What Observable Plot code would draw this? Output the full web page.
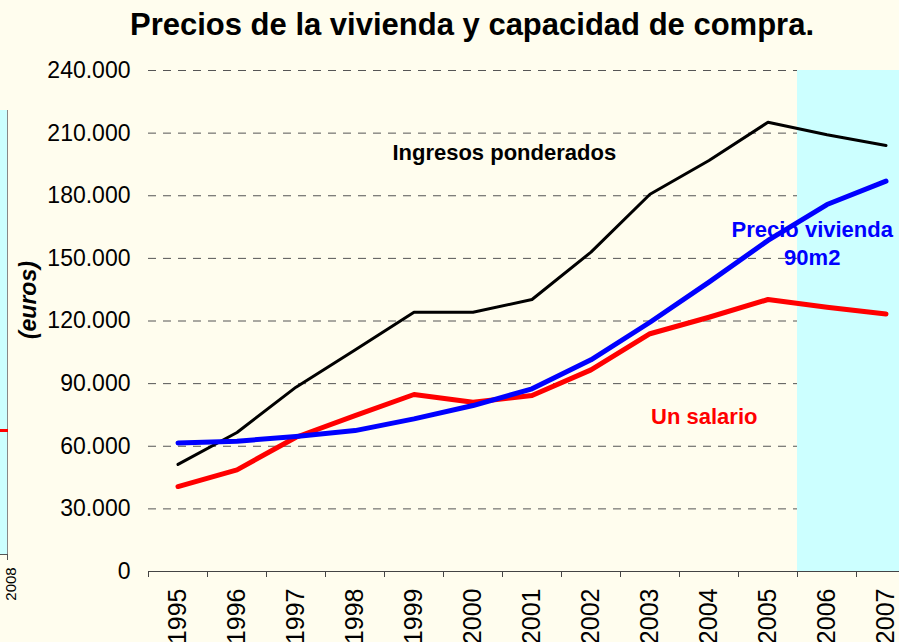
<!DOCTYPE html>
<html>
<head>
<meta charset="utf-8">
<script src="https://cdn.jsdelivr.net/npm/d3@7"></script>
<script src="https://cdn.jsdelivr.net/npm/@observablehq/plot@0.6"></script>
<style>
  html, body { margin: 0; padding: 0; background: #fffdee; overflow: hidden; width: 899px; height: 642px; }
  #wrap { position: relative; width: 899px; height: 642px; overflow: hidden; font-family: "Liberation Sans", Arial, sans-serif; }
  #title { position: absolute; left: 0; top: 0; width: 944px; height: 50px; text-align: center; font-weight: bold; font-size: 31px; line-height: 50px; color: #000; }
  #chart { position: absolute; left: 0; top: 50px; width: 916px; }
  #chart svg { max-width: none !important; }
  /* fragment of the neighbouring chart at the left edge of the screenshot */
  #frag-fill { position: absolute; left: 0; top: 110px; width: 7px; height: 445px; background: #ccffff; border-right: 1px solid #888; }
  #frag-axis { position: absolute; left: 0; top: 554px; width: 8px; height: 1px; background: #555; }
  #frag-tick { position: absolute; left: 7px; top: 554px; width: 1px; height: 6px; background: #555; }
  #frag-line { position: absolute; left: 0; top: 429px; width: 8px; height: 3px; background: #ff0000; }
  #frag-label { position: absolute; left: 10px; top: 584px; font-size: 15px; color: #000; transform: translate(-50%, -50%) rotate(-90deg); white-space: nowrap; }
</style>
</head>
<body>
<div id="wrap">
  <div id="frag-fill"></div>
  <div id="frag-line"></div>
  <div id="frag-axis"></div>
  <div id="frag-tick"></div>
  <div id="frag-label">2008</div>
  <div id="title">Precios de la vivienda y capacidad de compra.</div>
  <div id="chart"></div>
</div>
<script>
// ---- data (euros) ----
const years    = [1995, 1996, 1997, 1998, 1999, 2000, 2001, 2002, 2003, 2004, 2005, 2006, 2007];
const ingresos = [51300, 66600, 88300, 106100, 124200, 124200, 130300, 153000, 180700, 196900, 215200, 209200, 204100];
const precio   = [61600, 62400, 64700, 67500, 73100, 79500, 87500, 101400, 119400, 138600, 158600, 175800, 187000];
const salario  = [40700, 48700, 64300, 74700, 84800, 81100, 84300, 96600, 113900, 121800, 130300, 126600, 123400];
const yTicks   = [0, 30000, 60000, 90000, 120000, 150000, 180000, 210000, 240000];
const shadedYears = [2006, 2007];
const unitLabel = [{ text: "(euros)", value: 130000 }];
const seriesLabels = [
  { text: "Ingresos ponderados", year: 2000.53, value: 196900, color: "#000000" },
  { text: "Precio vivienda\n90m2", year: 2005.75, value: 146600, color: "#0000ff" },
  { text: "Un salario", year: 2003.92, value: 70700, color: "#ff0000" }
];

const rows = years.map((year, i) => ({ year, ingresos: ingresos[i], precio: precio[i], salario: salario[i] }));
const halfYears = [years[0] - 0.5, ...years.map(y => y + 0.5)];
const shade = [{ x1: d3.min(shadedYears) - 0.5, x2: d3.max(shadedYears) + 0.5 }];
const fmt = d => d === 0 ? "0" : d3.format(",")(d).replace(/,/g, ".");

const chart = Plot.plot({
  width: 916,
  height: 592,
  marginLeft: 148,
  marginRight: 1,
  marginTop: 20,
  marginBottom: 71,
  style: { background: "transparent", fontFamily: "Liberation Sans, Arial, sans-serif", color: "#000", overflow: "visible", maxWidth: "none" },
  x: { domain: [halfYears[0], halfYears[halfYears.length - 1]], axis: null },
  y: { domain: [0, d3.max(yTicks)], axis: null },
  marks: [
    Plot.ruleY(yTicks.filter(d => d > 0), { stroke: "#555", strokeWidth: 1, strokeDasharray: "8,7" }),
    Plot.rect(shade, { x1: "x1", x2: "x2", y1: 0, y2: d3.max(yTicks), fill: "#ccffff" }),
    Plot.ruleY([0], { stroke: "#444", strokeWidth: 1 }),
    Plot.axisX({ ticks: halfYears, tickSize: 6, tickFormat: () => "", stroke: "#444", label: null }),
    Plot.axisX({ ticks: years, tickSize: 0, tickPadding: 17, rotate: -90, textAnchor: "end", lineAnchor: "middle",
                 fontSize: 25, tickFormat: d => String(d), fill: "#000", label: null }),
    Plot.axisY({ ticks: yTicks, tickSize: 0, tickPadding: 18, fontSize: 23, tickFormat: fmt, fill: "#000", label: null }),
    Plot.text(unitLabel, { y: "value", text: "text", frameAnchor: "left", dx: -120, rotate: -90, fontSize: 23,
                           textAnchor: "middle", lineAnchor: "middle",
                           fontWeight: "bold", fontStyle: "italic", fill: "#000" }),
    Plot.line(rows, { x: "year", y: "ingresos", stroke: "#000000", strokeWidth: 3, strokeLinejoin: "round", strokeLinecap: "round" }),
    Plot.line(rows, { x: "year", y: "salario", stroke: "#ff0000", strokeWidth: 5, strokeLinejoin: "round", strokeLinecap: "round" }),
    Plot.line(rows, { x: "year", y: "precio", stroke: "#0000ff", strokeWidth: 5, strokeLinejoin: "round", strokeLinecap: "round" }),
    Plot.text(seriesLabels, { x: "year", y: "value", text: "text", fill: "color", fontSize: 22, fontWeight: "bold",
                              lineAnchor: "bottom", lineHeight: 1.29, textAnchor: "middle" })
  ]
});
document.getElementById("chart").appendChild(chart);
</script>
</body>
</html>
